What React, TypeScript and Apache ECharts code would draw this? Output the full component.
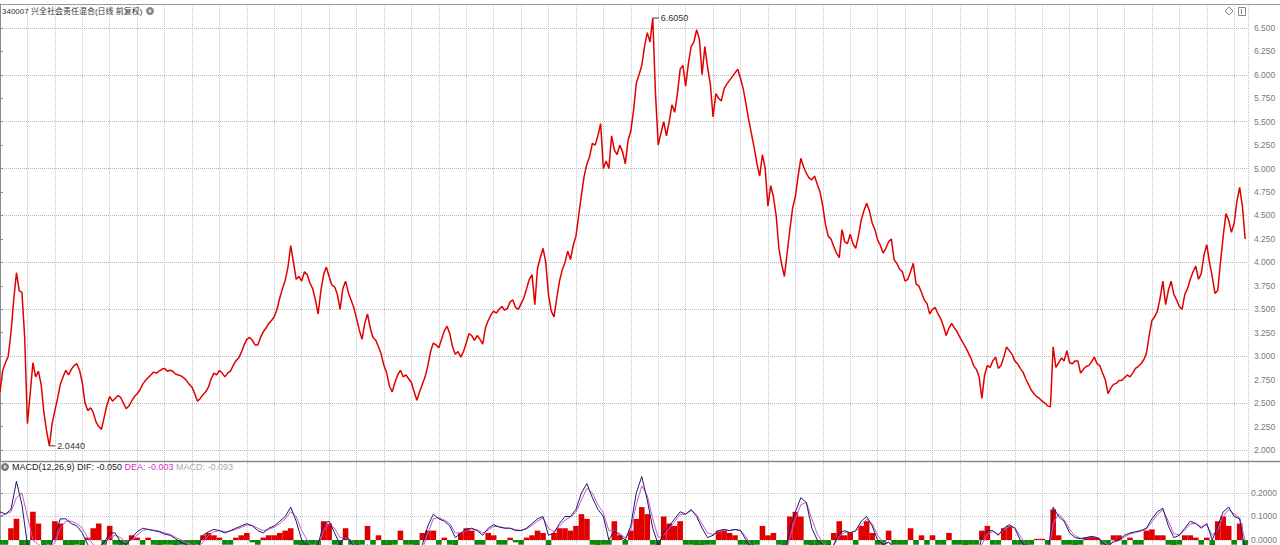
import React, { useEffect, useRef } from 'react';
import * as echarts from 'echarts';

// ---- price (daily close, sampled) ----
const priceA = [
  2.62, 2.93, 3.25, 3.89, 3.68, 2.28, 2.93, 2.84, 2.4, 2.044,
  2.42, 2.7, 2.85, 2.86, 2.92, 2.72, 2.42, 2.4, 2.25, 2.35,
  2.57, 2.55, 2.56, 2.44, 2.52, 2.6, 2.7, 2.77, 2.83, 2.84,
  2.87, 2.85, 2.81, 2.79, 2.74, 2.67, 2.52, 2.59, 2.67, 2.82,
  2.85, 2.78, 2.84, 2.95, 3.04, 3.18, 3.17, 3.12, 3.26, 3.35,
  3.42, 3.62, 3.81, 4.18, 3.82, 3.8, 3.87,
];
const priceB = [
  3.72, 3.45, 3.87, 3.85, 3.74, 3.5, 3.8, 3.6, 3.4, 3.18,
  3.45, 3.2, 3.1, 2.9, 2.68, 2.72, 2.85, 2.8, 2.72, 2.53,
  2.7, 2.9, 3.14, 3.09, 3.27, 3.24, 3.02, 2.99, 3.14, 3.22,
  3.22, 3.13, 3.38, 3.48, 3.5, 3.49, 3.58, 3.52, 3.56, 3.72,
  3.87, 3.94, 4.15, 3.65, 3.42, 3.8, 4.0, 4.03, 4.28, 4.72,
  5.05, 5.27, 5.35, 5.0, 5.0, 5.2, 5.25,
];
const priceC = [
  5.05, 5.4, 5.91, 6.1, 6.45, 6.605, 5.25, 5.5, 5.5, 5.6,
  6.06, 5.88, 6.3, 6.48, 6.0, 6.08, 5.55, 5.75, 5.85, 5.94,
  6.02, 5.96, 5.69, 5.37, 5.05, 5.15, 4.6, 4.7, 4.15, 3.85,
  4.35, 4.7, 5.11, 4.95, 4.88, 4.83, 4.6, 4.28, 4.17, 4.05,
  4.22, 4.3, 4.15, 4.45, 4.63, 4.42, 4.24, 4.1, 4.22, 4.03,
  3.93, 3.8, 3.9, 3.77, 3.68, 3.56, 3.5,
];
const priceD = [
  3.45, 3.32, 3.3, 3.3, 3.2, 3.1, 2.98, 2.86, 2.55, 2.9,
  2.95, 2.87, 2.99, 3.06, 2.95, 2.87, 2.76, 2.64, 2.57, 2.52,
  2.47, 3.1, 2.93, 2.95, 2.93, 2.95, 2.82, 2.89, 2.94, 2.92,
  2.82, 2.6, 2.7, 2.74, 2.77, 2.78, 2.87, 2.92, 3.03, 3.38,
  3.48, 3.8, 3.7, 3.66, 3.53, 3.66, 3.82, 3.96, 3.88, 4.19,
  3.85, 3.7, 4.28, 4.45, 4.42, 4.8, 4.25,
];
// in-between closes (half a sample later than the matching close above)
const midA = [
  2.85, 3.0, 3.6, 3.7, 3.2, 2.6, 2.78, 2.7, 2.2, 2.28,
  2.55, 2.78, 2.8, 2.9, 2.85, 2.5, 2.45, 2.3, 2.22, 2.48,
  2.52, 2.58, 2.5, 2.47, 2.57, 2.64, 2.74, 2.8, 2.82, 2.86,
  2.84, 2.84, 2.8, 2.77, 2.7, 2.6, 2.55, 2.62, 2.76, 2.8,
  2.82, 2.82, 2.9, 2.98, 3.12, 3.2, 3.12, 3.2, 3.3, 3.38,
  3.5, 3.72, 3.95, 4.0, 3.85, 3.9, 3.78,
];
const midB = [
  3.6, 3.7, 3.95, 3.76, 3.66, 3.72, 3.68, 3.52, 3.28, 3.35,
  3.3, 3.17, 3.02, 2.82, 2.62, 2.8, 2.78, 2.76, 2.62, 2.62,
  2.78, 3.05, 3.12, 3.18, 3.32, 3.1, 3.05, 3.05, 3.24, 3.17,
  3.18, 3.3, 3.44, 3.46, 3.53, 3.51, 3.6, 3.5, 3.62, 3.82,
  3.55, 4.05, 4.0, 3.48, 3.62, 3.92, 4.12, 4.18, 4.5, 4.92,
  5.13, 5.25, 5.48, 5.08, 5.35, 5.15, 5.18,
];
const midC = [
  5.3, 5.62, 6.0, 6.3, 6.35, 5.8, 5.38, 5.35, 5.68, 5.8,
  6.1, 6.12, 6.35, 6.38, 6.3, 5.9, 5.8, 5.72, 5.9, 5.98,
  6.06, 5.85, 5.52, 5.22, 4.92, 5.0, 4.82, 4.5, 3.98, 4.1,
  4.58, 4.92, 5.02, 4.9, 4.92, 4.75, 4.4, 4.25, 4.1, 4.35,
  4.2, 4.2, 4.28, 4.55, 4.55, 4.35, 4.18, 4.15, 4.25, 3.99,
  3.9, 3.82, 3.99, 3.75, 3.6, 3.45, 3.52,
];
const midD = [
  3.4, 3.22, 3.35, 3.26, 3.15, 3.04, 2.9, 2.78, 2.8, 2.88,
  2.99, 2.9, 3.1, 3.02, 2.92, 2.83, 2.7, 2.6, 2.55, 2.5,
  2.46, 2.88, 2.98, 3.06, 2.92, 2.95, 2.86, 2.9, 2.99, 2.9,
  2.75, 2.66, 2.71, 2.74, 2.8, 2.82, 2.89, 2.96, 3.22, 3.42,
  3.62, 3.55, 3.8, 3.6, 3.5, 3.72, 3.9, 3.82, 4.08, 4.0,
  3.67, 4.0, 4.52, 4.32, 4.65, 4.6,
];

// ---- MACD(12,26,9) ----
const difA = [
  0.12, 0.11, 0.13, 0.25, 0.15, -0.02, -0.05, -0.03, -0.06, -0.04,
  0.02, 0.09, 0.09, 0.07, 0.06, 0.03, -0.02, -0.04, -0.03, -0.01,
  0.03, 0.03, -0.01, -0.02, 0.01, 0.035, 0.05, 0.045, 0.04, 0.035,
  0.025, 0.02, 0.005, -0.01, -0.02, -0.03, -0.04, 0.02, 0.035, 0.045,
  0.04, 0.03, 0.04, 0.05, 0.06, 0.07, 0.06, 0.04, 0.03, 0.05,
  0.06, 0.08, 0.1, 0.14, 0.08, 0.0, -0.03,
];
const difB = [
  -0.04, -0.02, 0.07, 0.08, 0.03, -0.02, 0.02, -0.01, -0.04, -0.05,
  -0.02, -0.05, -0.06, -0.08, -0.1, -0.08, -0.04, -0.05, -0.06, -0.07,
  -0.02, 0.06, 0.11, 0.09, 0.08, 0.06, 0.01, 0.03, 0.045, 0.05,
  0.04, 0.02, 0.05, 0.065, 0.055, 0.05, 0.05, 0.04, 0.04, 0.05,
  0.07, 0.09, 0.1, 0.02, 0.03, 0.07, 0.1, 0.1, 0.13, 0.2,
  0.24, 0.18, 0.13, 0.1, 0.0, 0.04, 0.02,
];
const difC = [
  0.0, 0.06, 0.2, 0.27, 0.17, 0.05, -0.02, 0.03, 0.06, 0.09,
  0.12, 0.11, 0.13, 0.1, 0.05, 0.01, 0.02, 0.04, 0.045, 0.04,
  0.045, 0.04, 0.0, -0.04, -0.07, -0.04, -0.06, -0.06, -0.09, -0.08,
  0.05, 0.12, 0.18, 0.16, 0.05, 0.0, -0.02, -0.04, -0.02, 0.03,
  0.04, 0.03, 0.04, 0.08, 0.1, 0.06, 0.0, -0.02, -0.01, -0.03,
  -0.04, -0.05, -0.03, -0.05, -0.06, -0.07, -0.07,
];
const difD = [
  -0.08, -0.09, -0.08, -0.08, -0.09, -0.1, -0.1, -0.11, 0.02, 0.04,
  0.04, 0.02, 0.05, 0.065, 0.05, 0.0, -0.03, -0.05, -0.06, -0.07,
  -0.08, 0.14, 0.1, 0.08, 0.03, 0.01, 0.005, 0.01, 0.015, 0.01,
  -0.01, -0.03, -0.005, 0.0, 0.02, 0.03, 0.035, 0.04, 0.05, 0.09,
  0.12, 0.135, 0.06, 0.01, 0.02, 0.05, 0.08, 0.07, 0.05, 0.07,
  0.0, 0.06, 0.12, 0.14, 0.1, 0.09, -0.05,
];
const deaA = [
  0.1, 0.11, 0.12, 0.18, 0.2, 0.1, 0.0, -0.02, -0.03, -0.04,
  -0.01, 0.05, 0.08, 0.08, 0.07, 0.05, 0.01, -0.02, -0.03, -0.02,
  0.01, 0.02, 0.01, -0.01, 0.0, 0.02, 0.04, 0.045, 0.042, 0.038,
  0.03, 0.024, 0.012, 0.0, -0.012, -0.02, -0.03, -0.01, 0.02, 0.035,
  0.04, 0.035, 0.037, 0.045, 0.054, 0.064, 0.062, 0.05, 0.04, 0.045,
  0.055, 0.07, 0.09, 0.12, 0.1, 0.04, 0.0,
];
const deaB = [
  -0.03, -0.025, 0.04, 0.07, 0.05, 0.01, 0.01, 0.0, -0.03, -0.045,
  -0.03, -0.04, -0.055, -0.07, -0.09, -0.085, -0.06, -0.055, -0.058, -0.065,
  -0.04, 0.03, 0.09, 0.095, 0.085, 0.07, 0.03, 0.03, 0.04, 0.048,
  0.043, 0.03, 0.042, 0.058, 0.057, 0.052, 0.05, 0.044, 0.041, 0.047,
  0.062, 0.08, 0.094, 0.05, 0.035, 0.058, 0.085, 0.097, 0.118, 0.17,
  0.22, 0.2, 0.15, 0.115, 0.04, 0.04, 0.027,
];
const deaC = [
  0.01, 0.045, 0.15, 0.23, 0.19, 0.09, 0.01, 0.02, 0.05, 0.078,
  0.108, 0.11, 0.125, 0.108, 0.068, 0.03, 0.023, 0.035, 0.042, 0.041,
  0.044, 0.041, 0.013, -0.025, -0.055, -0.045, -0.055, -0.058, -0.08, -0.08,
  0.01, 0.09, 0.15, 0.16, 0.09, 0.025, -0.01, -0.03, -0.022, 0.015,
  0.033, 0.031, 0.037, 0.066, 0.088, 0.07, 0.02, -0.01, -0.01, -0.025,
  -0.035, -0.045, -0.035, -0.045, -0.055, -0.065, -0.07,
];
const deaD = [
  -0.077, -0.086, -0.082, -0.081, -0.087, -0.096, -0.099, -0.107, -0.02, 0.025,
  0.036, 0.025, 0.042, 0.058, 0.053, 0.017, -0.015, -0.04, -0.054, -0.065,
  -0.076, 0.07, 0.11, 0.087, 0.045, 0.018, 0.008, 0.009, 0.013, 0.011,
  -0.004, -0.022, -0.01, -0.003, 0.013, 0.025, 0.032, 0.038, 0.047, 0.077,
  0.108, 0.128, 0.08, 0.027, 0.022, 0.042, 0.069, 0.07, 0.056, 0.065,
  0.02, 0.045, 0.1, 0.13, 0.11, 0.095, -0.003,
];
const histA = [
  -0.02, -0.02, 0.05, 0.09, -0.03, -0.03, 0.12, 0.07, -0.03, -0.02,
  0.08, 0.07, -0.03, -0.03, -0.02, -0.03, 0.01, 0.05, 0.07, -0.02,
  0.06, -0.02, -0.03, -0.02, 0.02, 0.01, -0.02, 0.01, -0.02, -0.03,
  -0.02, -0.02, -0.03, -0.02, -0.02, -0.03, -0.02, 0.02, 0.03, 0.02,
  0.01, -0.02, -0.02, 0.01, 0.02, 0.03, -0.01, -0.02, 0.01, 0.02,
  0.02, 0.03, 0.04, 0.05, -0.02, -0.03, -0.03,
];
const histB = [
  -0.02, -0.03, 0.08, 0.07, -0.02, -0.03, 0.05, -0.02, -0.03, -0.02,
  0.06, -0.02, 0.02, -0.03, -0.03, -0.02, 0.04, -0.02, -0.02, -0.03,
  0.03, 0.04, 0.04, -0.02, 0.01, -0.02, -0.03, 0.03, 0.05, 0.04,
  -0.02, -0.02, 0.03, 0.02, -0.02, -0.02, 0.01, -0.01, -0.02, 0.01,
  0.02, 0.04, 0.03, -0.03, 0.03, 0.05, 0.05, 0.04, 0.06, 0.11,
  0.09, -0.02, -0.03, -0.02, -0.02, 0.08, 0.02,
];
const histC = [
  -0.02, 0.04, 0.09, 0.14, 0.11, -0.02, -0.03, 0.1, 0.07, 0.06,
  0.08, -0.02, -0.02, -0.03, -0.03, -0.02, -0.02, 0.04, 0.04, 0.03,
  0.02, -0.02, -0.02, -0.03, -0.02, 0.06, 0.02, 0.03, -0.02, -0.03,
  0.1, 0.12, 0.1, -0.02, -0.03, -0.03, -0.02, -0.03, 0.03, 0.08,
  0.02, 0.03, -0.02, 0.06, 0.08, 0.03, -0.02, -0.02, 0.04, -0.02,
  -0.02, -0.02, 0.05, -0.02, 0.02, -0.02, 0.02,
];
const histD = [
  -0.02, -0.02, 0.03, -0.02, -0.02, -0.03, -0.02, -0.02, 0.04, 0.06,
  -0.02, -0.02, 0.05, 0.06, -0.02, -0.02, -0.03, -0.02, 0.005, 0.005,
  -0.02, 0.13, 0.02, -0.02, -0.02, -0.03, -0.02, 0.01, 0.015, 0.01,
  -0.02, -0.03, 0.02, 0.02, -0.02, 0.01, -0.02, -0.02, 0.04, 0.045,
  0.02, 0.02, -0.02, -0.03, -0.02, 0.02, 0.02, 0.01, -0.02, 0.01,
  -0.03, 0.08, 0.1, 0.06, -0.02, 0.07, -0.093,
];

// ---- axis ticks / texts ----
const priceTicks = [2, 2.25, 2.5, 2.75, 3, 3.25, 3.5, 3.75, 4, 4.25, 4.5, 4.75, 5, 5.25, 5.5, 5.75, 6, 6.25, 6.5];
const priceGrid = [2, 2.5, 3, 3.5, 4, 4.5, 5, 5.5, 6, 6.5];
const macdTicks = [0, 0.1, 0.2];
const TITLE = '340007 兴全社会责任混合(日线 前复权)';

const price = [...priceA, ...priceB, ...priceC, ...priceD];
const mid = [...midA, ...midB, ...midC, ...midD];
const dif = [...difA, ...difB, ...difC, ...difD];
const dea = [...deaA, ...deaB, ...deaC, ...deaD];
const hist = [...histA, ...histB, ...histC, ...histD];

const FONT = '"Liberation Sans", Arial, "Noto Sans CJK SC", sans-serif';

export default function App() {
  const ref = useRef<HTMLDivElement>(null);
  useEffect(() => {
    const chart = echarts.init(ref.current as HTMLDivElement, null, { renderer: 'svg' });
    let maxI = 0;
    let minI = 0;
    price.forEach((v, i) => {
      if (v > price[maxI]) maxI = i;
      if (v < price[minI]) minI = i;
    });
    const priceLine: number[][] = [];
    price.forEach((v, i) => {
      priceLine.push([i, v]);
      if (i < mid.length) priceLine.push([i + 0.5, mid[i]]);
    });
    const last = (a: number[]) => a[a.length - 1];
    const header =
      `{a|MACD(12,26,9) DIF: ${last(dif).toFixed(3)}} {b|DEA: ${last(dea).toFixed(3)}} {c|MACD: ${last(hist).toFixed(3)}}`;

    const xCommon = {
      type: 'value',
      min: 0,
      max: 227.52,
      interval: 5,
      axisLine: { show: false },
      axisTick: { show: false },
      axisLabel: { show: false },
      splitLine: { show: true, lineStyle: { color: '#c4c4c4', type: 'dotted', width: 1 } },
    };

    const option: any = {
      animation: false,
      backgroundColor: '#ffffff',
      grid: [
        { left: -2.48, top: 4, width: 1250.48, height: 457 },
        { left: -2.48, top: 461, width: 1250.48, height: 84 },
      ],
      xAxis: [
        { ...xCommon, gridIndex: 0 },
        { ...xCommon, gridIndex: 1 },
      ],
      yAxis: [
        {
          type: 'value', gridIndex: 0, position: 'right',
          min: 1.8827, max: 6.7548,
          axisLine: { show: true, lineStyle: { color: '#8a8a8a', width: 1 } },
          axisTick: { show: true, length: 3, lineStyle: { color: '#8a8a8a' }, customValues: priceTicks },
          axisLabel: {
            show: true, customValues: priceTicks, color: '#7a7a7a', fontSize: 8.5, fontFamily: FONT, margin: 6,
            formatter: (v: number) => v.toFixed(3),
          },
          splitLine: { show: false },
        },
        {
          type: 'value', gridIndex: 0, position: 'right',
          min: 1.8827, max: 6.7548,
          axisLine: { show: false },
          axisTick: { show: false, customValues: priceGrid },
          axisLabel: { show: false, customValues: priceGrid },
          splitLine: { show: true, lineStyle: { color: '#b8b8b8', type: 'dotted', width: 1 } },
        },
        {
          type: 'value', gridIndex: 1, position: 'right',
          min: -0.0213, max: 0.3362,
          axisLine: { show: true, lineStyle: { color: '#8a8a8a', width: 1.5 } },
          axisTick: { show: true, length: 3, lineStyle: { color: '#8a8a8a' }, customValues: macdTicks },
          axisLabel: {
            show: true, customValues: macdTicks, color: '#7a7a7a', fontSize: 8.5, fontFamily: FONT, margin: 3,
            formatter: (v: number) => v.toFixed(4),
          },
          splitLine: { show: true, lineStyle: { color: '#c4c4c4', type: 'dotted', width: 1 } },
        },
      ],
      series: [
        {
          type: 'line', name: 'price', xAxisIndex: 0, yAxisIndex: 0,
          data: priceLine,
          showSymbol: false, symbol: 'none',
          lineStyle: { color: '#e00000', width: 1.5 },
          z: 5,
          markPoint: {
            symbol: 'rect', symbolSize: [6, 1], symbolOffset: [3, 0],
            itemStyle: { color: '#333' },
            label: {
              show: true, position: 'right', distance: 2, color: '#333', fontSize: 9, fontFamily: FONT,
              formatter: (p: any) => Number(p.value).toFixed(4),
            },
            data: [
              { coord: [maxI, price[maxI]], value: price[maxI] },
              { coord: [minI, price[minI]], value: price[minI] },
            ],
          },
        },
        {
          type: 'bar', name: 'MACD', xAxisIndex: 1, yAxisIndex: 2,
          data: hist.map((v, i) => [i, v]),
          barWidth: 5.6,
          itemStyle: {
            color: (p: any) => (p.value[1] >= 0 ? '#e00000' : '#0a8a0a'),
          },
          z: 3,
        },
        {
          type: 'line', name: 'DEA', xAxisIndex: 1, yAxisIndex: 2,
          data: dea.map((v, i) => [i, v]),
          showSymbol: false, symbol: 'none',
          lineStyle: { color: '#cc55cc', width: 1 },
          z: 4,
        },
        {
          type: 'line', name: 'DIF', xAxisIndex: 1, yAxisIndex: 2,
          data: dif.map((v, i) => [i, v]),
          showSymbol: false, symbol: 'none',
          lineStyle: { color: '#1c1c66', width: 1 },
          z: 5,
        },
      ],
      graphic: [
        { type: 'line', shape: { x1: 0, y1: 4.5, x2: 1280, y2: 4.5 }, style: { stroke: '#9a9a9a', lineWidth: 1 }, z: 10 },
        { type: 'line', shape: { x1: 0, y1: 461.5, x2: 1280, y2: 461.5 }, style: { stroke: '#8a8a8a', lineWidth: 1.5 }, z: 10 },
        {
          type: 'text', x: 2, y: 11, z: 10,
          style: { text: TITLE, fill: '#333', fontSize: 8, fontFamily: FONT, verticalAlign: 'middle' },
        },
        { type: 'circle', shape: { cx: 150, cy: 11, r: 4 }, style: { fill: '#888' }, z: 10 },
        { type: 'circle', shape: { cx: 150, cy: 11, r: 1.6 }, style: { fill: '#ddd' }, z: 11 },
        { type: 'polygon', shape: { points: [[1229, 7], [1233, 11], [1229, 15], [1225, 11]] }, style: { fill: 'none', stroke: '#888', lineWidth: 1 }, z: 10 },
        { type: 'rect', shape: { x: 1238.5, y: 7.5, width: 7, height: 8 }, style: { fill: 'none', stroke: '#888', lineWidth: 1 }, z: 10 },
        { type: 'line', shape: { x1: 1241.5, y1: 9, x2: 1241.5, y2: 14 }, style: { stroke: '#888', lineWidth: 1 }, z: 10 },
        { type: 'circle', shape: { cx: 5, cy: 467, r: 4 }, style: { fill: '#777' }, z: 10 },
        { type: 'circle', shape: { cx: 5, cy: 467, r: 1.6 }, style: { fill: '#ddd' }, z: 11 },
        {
          type: 'text', x: 12, y: 467, z: 10,
          style: {
            text: header, fontSize: 9, fontFamily: FONT, verticalAlign: 'middle',
            rich: {
              a: { fill: '#222', fontSize: 9, fontFamily: FONT },
              b: { fill: '#cc33cc', fontSize: 9, fontFamily: FONT },
              c: { fill: '#aaaaaa', fontSize: 9, fontFamily: FONT },
            },
          },
        },
      ],
    };
    chart.setOption(option);
    return () => chart.dispose();
  }, []);
  return (
    <div
      ref={ref}
      style={{ position: 'absolute', left: 0, top: 0, width: 1280, height: 545, background: '#fff' }}
    />
  );
}
